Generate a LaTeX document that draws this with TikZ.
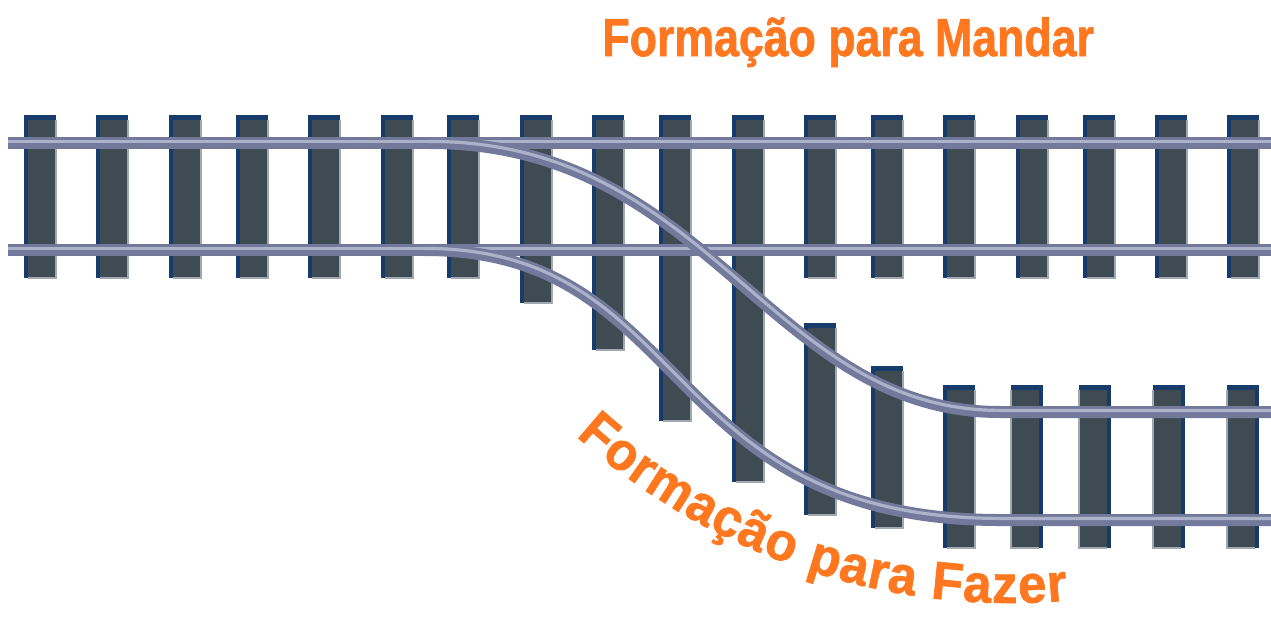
\documentclass[tikz,border=0pt]{standalone}
\usepackage{fontspec}
\usetikzlibrary{decorations.text}
\newfontfamily\railfont[FakeStretch=0.835,FakeBold=1.3]{Liberation Sans Bold}
\newfontfamily\railfontcurve[FakeStretch=0.95,FakeBold=1.3]{Liberation Sans Bold}
\definecolor{tiefill}{RGB}{63,75,83}
\definecolor{tieedge}{RGB}{23,60,108}
\definecolor{tieline}{RGB}{160,168,178}
\definecolor{railbody}{RGB}{114,121,154}
\definecolor{railhi}{RGB}{172,178,202}
\definecolor{labelorange}{RGB}{255,120,32}
% one sleeper: left x, top y, bottom y (blue edge left or right)
\newcommand{\railtie}[3]{%
  \fill[tieedge] (#1,#2) rectangle (#1+32,#3);
  \fill[tiefill] (#1+4,#2+5) rectangle (#1+32,#3);
  \draw[tieline] (#1+32,#2+5) -- (#1+32,#3) -- (#1+4,#3);}
\newcommand{\railtieflip}[3]{%
  \fill[tieedge] (#1,#2) rectangle (#1+32,#3);
  \fill[tiefill] (#1,#2+5) rectangle (#1+28,#3);
  \draw[tieline] (#1,#2+5) -- (#1,#3) -- (#1+28,#3);}
\begin{document}
\begin{tikzpicture}[x=0.5pt,y=-0.5pt]
\tikzstyle{rail}=[line width=6pt, draw=railbody]
\tikzstyle{railtop}=[line width=1.6pt, draw=railhi, yshift=0.8pt]
\tikzstyle{tieline}=[line width=0.6pt, draw=tieline]
\useasboundingbox (0,0) rectangle (1271,617);
% sleepers
\railtie{24}{115}{278}
\railtie{96}{115}{278}
\railtie{169}{115}{278}
\railtie{236}{115}{278}
\railtie{308}{115}{278}
\railtie{381}{115}{278}
\railtie{447}{115}{278}
\railtie{520}{115}{303}
\railtie{592}{115}{350}
\railtie{659}{115}{421}
\railtie{732}{115}{482}
\railtie{804}{115}{278}
\railtie{804}{323}{515}
\railtie{871}{115}{278}
\railtie{871}{366}{528}
\railtie{943}{115}{278}
\railtie{943}{385}{548}
\railtie{1016}{115}{278}
\railtie{1083}{115}{278}
\railtie{1155}{115}{278}
\railtie{1227}{115}{278}
\railtieflip{1011}{385}{548}
\railtieflip{1079}{385}{548}
\railtieflip{1153}{385}{548}
\railtieflip{1227}{385}{548}
% straight rails
\draw[rail] (8,143) -- (1271,143);
\draw[railtop] (8,143) -- (1271,143);
\draw[rail] (8,250) -- (1271,250);
\draw[railtop] (8,250) -- (1271,250);
% diverging rails
\draw[rail] (430,143) .. controls (710,143) and (770,412) .. (1000,412) -- (1271,412);
\draw[railtop] (430,143) .. controls (710,143) and (770,412) .. (1000,412) -- (1271,412);
\draw[rail] (425,250) .. controls (693,250) and (658,520) .. (1000,520) -- (1271,520);
\draw[railtop] (425,250) .. controls (693,250) and (658,520) .. (1000,520) -- (1271,520);
% labels
\node (mandar) [anchor=base west, inner sep=0pt, text=labelorange] at (602,56)
  {\railfont\fontsize{26.75}{32}\selectfont Formação para Mandar};
\path[decorate, decoration={text along path, text align={fit to path},
  text={|\railfontcurve\fontsize{26.75}{32}\selectfont\color{labelorange}|Formação para Fazer}}]
  (576,436) arc[start angle=132, end angle=85, radius=650];
\end{tikzpicture}
\end{document}
